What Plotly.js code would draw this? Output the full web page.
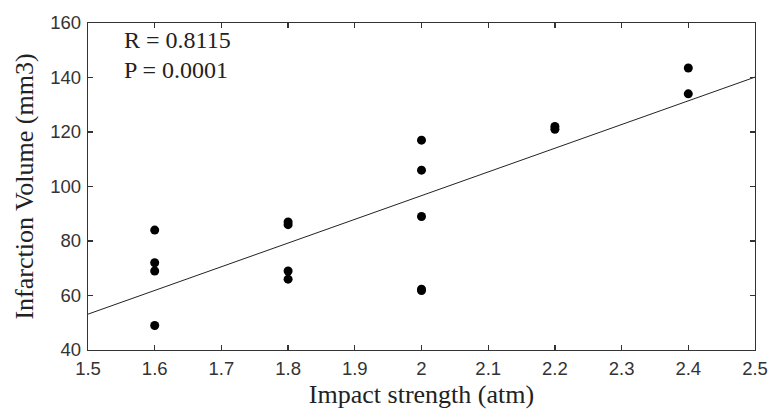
<!DOCTYPE html>
<html>
<head>
<meta charset="utf-8">
<script src="https://cdn.plot.ly/plotly-3.0.1.min.js"></script>
<style>html,body{margin:0;padding:0;background:#fff;}#chart{width:773px;height:414px;}</style>
</head>
<body>
<div id="chart"></div>
<script>
// Data
const impactStrength = [1.6, 1.6, 1.6, 1.6, 1.8, 1.8, 1.8, 1.8, 2.0, 2.0, 2.0, 2.0, 2.0, 2.2, 2.2, 2.4, 2.4];
const infarctionVolume = [84, 72, 69, 49, 87, 86, 69, 66, 117, 106, 89, 62.3, 61.8, 122, 121, 143.5, 134];
const xTickVals = [1.5, 1.6, 1.7, 1.8, 1.9, 2.0, 2.1, 2.2, 2.3, 2.4, 2.5];
const xTickText = ["1.5", "1.6", "1.7", "1.8", "1.9", "2", "2.1", "2.2", "2.3", "2.4", "2.5"];
const yTickVals = [40, 60, 80, 100, 120, 140, 160];
const statsText = ["R = 0.8115", "P = 0.0001"];
const xRange = [1.5, 2.5];

// Least-squares fit computed from the data
const n = impactStrength.length;
const mx = impactStrength.reduce((a, b) => a + b, 0) / n;
const my = infarctionVolume.reduce((a, b) => a + b, 0) / n;
let sxy = 0, sxx = 0;
for (let i = 0; i < n; i++) {
  sxy += (impactStrength[i] - mx) * (infarctionVolume[i] - my);
  sxx += (impactStrength[i] - mx) ** 2;
}
const slope = sxy / sxx;
const intercept = my - slope * mx;
const fitX = xRange.slice();
const fitY = fitX.map(x => intercept + slope * x);

const traces = [
  {
    x: fitX, y: fitY, type: 'scatter', mode: 'lines',
    line: {color: '#222', width: 1}, hoverinfo: 'skip', showlegend: false, cliponaxis: true
  },
  {
    x: impactStrength, y: infarctionVolume, type: 'scatter', mode: 'markers',
    marker: {color: '#000', size: 9, symbol: 'circle'}, showlegend: false
  }
];

const serif = 'Liberation Serif, Times New Roman, serif';
const axisCommon = {
  showgrid: false, zeroline: false, showline: true, mirror: 'ticks',
  linecolor: '#333', linewidth: 1.3, ticks: 'inside', ticklen: 5, tickcolor: '#333', tickwidth: 1.3,
  tickfont: {family: 'Liberation Sans, Arial, sans-serif', size: 18.5, color: '#333'}
};

const layout = {
  width: 773, height: 414,
  margin: {l: 88, r: 18, t: 23, b: 64},
  paper_bgcolor: '#fff', plot_bgcolor: '#fff',
  xaxis: Object.assign({}, axisCommon, {
    range: xRange, tickvals: xTickVals, ticktext: xTickText,
    ticklabelstandoff: 1,
    title: {text: 'Impact strength (atm)', font: {family: serif, size: 26, color: '#222'}, standoff: 7}
  }),
  yaxis: Object.assign({}, axisCommon, {
    range: [40, 160], tickvals: yTickVals,
    ticklabelstandoff: 2,
    title: {text: 'Infarction Volume (mm3)', font: {family: serif, size: 26, color: '#222'}, standoff: 9}
  }),
  annotations: statsText.map((t, i) => ({
    text: t, xref: 'paper', yref: 'paper', x: 0.051, y: 0.948 - i * 0.092,
    xanchor: 'left', yanchor: 'middle', showarrow: false,
    font: {family: serif, size: 24, color: '#222'}
  }))
};

Plotly.newPlot('chart', traces, layout, {displayModeBar: false, staticPlot: true});
</script>
</body>
</html>
